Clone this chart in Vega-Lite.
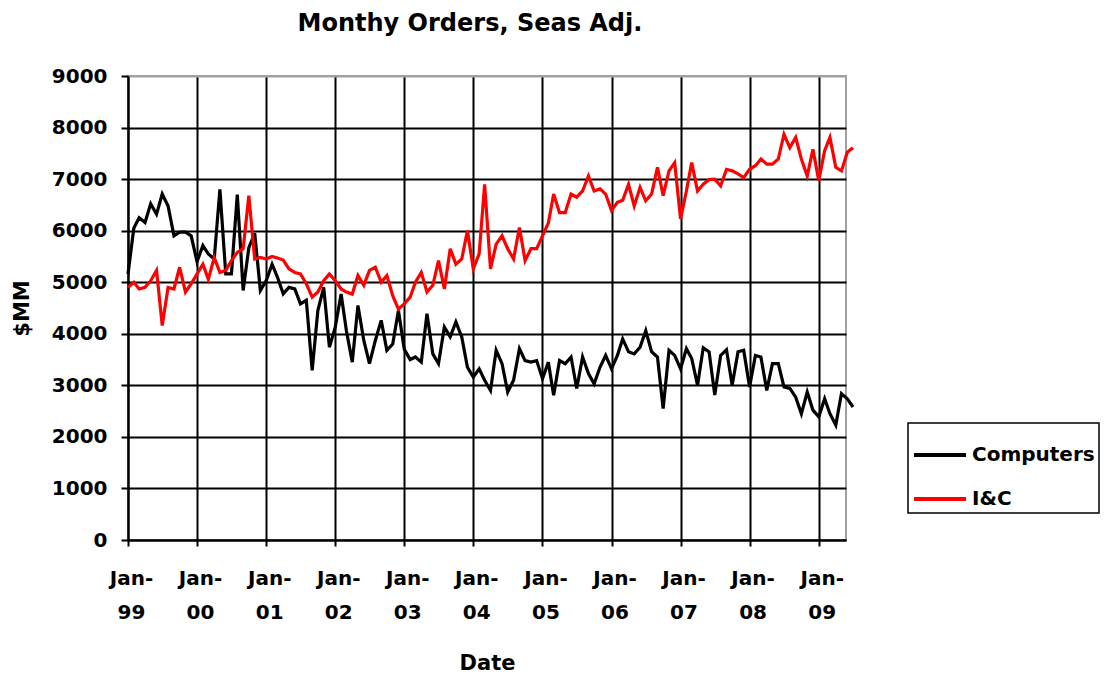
{
  "$schema": "https://vega.github.io/schema/vega-lite/v6.json",
  "width": 718,
  "height": 464,
  "autosize": {"type": "none"},
  "padding": {"left": 128, "top": 76, "right": 258, "bottom": 134},
  "background": "white",
  "config": {
    "font": "DejaVu Sans",
    "view": {"stroke": "#a0a0a0", "strokeWidth": 2}
  },
  "title": {
    "text": "Monthy Orders, Seas Adj.",
    "font": "DejaVu Sans",
    "fontSize": 24,
    "fontWeight": "bold",
    "color": "black",
    "anchor": "middle",
    "baseline": "alphabetic",
    "dx": -17,
    "offset": 11
  },
  "data": {
    "values": [
      {"date":"1999-01-01","series":"Computers","value":5160},
      {"date":"1999-02-01","series":"Computers","value":6050},
      {"date":"1999-03-01","series":"Computers","value":6250},
      {"date":"1999-04-01","series":"Computers","value":6160},
      {"date":"1999-05-01","series":"Computers","value":6520},
      {"date":"1999-06-01","series":"Computers","value":6320},
      {"date":"1999-07-01","series":"Computers","value":6710},
      {"date":"1999-08-01","series":"Computers","value":6480},
      {"date":"1999-09-01","series":"Computers","value":5900},
      {"date":"1999-10-01","series":"Computers","value":5970},
      {"date":"1999-11-01","series":"Computers","value":5970},
      {"date":"1999-12-01","series":"Computers","value":5900},
      {"date":"2000-01-01","series":"Computers","value":5400},
      {"date":"2000-02-01","series":"Computers","value":5710},
      {"date":"2000-03-01","series":"Computers","value":5550},
      {"date":"2000-04-01","series":"Computers","value":5450},
      {"date":"2000-05-01","series":"Computers","value":6800},
      {"date":"2000-06-01","series":"Computers","value":5160},
      {"date":"2000-07-01","series":"Computers","value":5160},
      {"date":"2000-08-01","series":"Computers","value":6700},
      {"date":"2000-09-01","series":"Computers","value":4840},
      {"date":"2000-10-01","series":"Computers","value":5670},
      {"date":"2000-11-01","series":"Computers","value":5950},
      {"date":"2000-12-01","series":"Computers","value":4840},
      {"date":"2001-01-01","series":"Computers","value":5030},
      {"date":"2001-02-01","series":"Computers","value":5350},
      {"date":"2001-03-01","series":"Computers","value":5100},
      {"date":"2001-04-01","series":"Computers","value":4775},
      {"date":"2001-05-01","series":"Computers","value":4900},
      {"date":"2001-06-01","series":"Computers","value":4870},
      {"date":"2001-07-01","series":"Computers","value":4580},
      {"date":"2001-08-01","series":"Computers","value":4650},
      {"date":"2001-09-01","series":"Computers","value":3290},
      {"date":"2001-10-01","series":"Computers","value":4450},
      {"date":"2001-11-01","series":"Computers","value":4900},
      {"date":"2001-12-01","series":"Computers","value":3740},
      {"date":"2002-01-01","series":"Computers","value":4130},
      {"date":"2002-02-01","series":"Computers","value":4770},
      {"date":"2002-03-01","series":"Computers","value":4060},
      {"date":"2002-04-01","series":"Computers","value":3450},
      {"date":"2002-05-01","series":"Computers","value":4550},
      {"date":"2002-06-01","series":"Computers","value":3870},
      {"date":"2002-07-01","series":"Computers","value":3420},
      {"date":"2002-08-01","series":"Computers","value":3870},
      {"date":"2002-09-01","series":"Computers","value":4260},
      {"date":"2002-10-01","series":"Computers","value":3680},
      {"date":"2002-11-01","series":"Computers","value":3800},
      {"date":"2002-12-01","series":"Computers","value":4450},
      {"date":"2003-01-01","series":"Computers","value":3700},
      {"date":"2003-02-01","series":"Computers","value":3500},
      {"date":"2003-03-01","series":"Computers","value":3550},
      {"date":"2003-04-01","series":"Computers","value":3450},
      {"date":"2003-05-01","series":"Computers","value":4390},
      {"date":"2003-06-01","series":"Computers","value":3610},
      {"date":"2003-07-01","series":"Computers","value":3420},
      {"date":"2003-08-01","series":"Computers","value":4130},
      {"date":"2003-09-01","series":"Computers","value":3940},
      {"date":"2003-10-01","series":"Computers","value":4230},
      {"date":"2003-11-01","series":"Computers","value":3940},
      {"date":"2003-12-01","series":"Computers","value":3350},
      {"date":"2004-01-01","series":"Computers","value":3160},
      {"date":"2004-02-01","series":"Computers","value":3320},
      {"date":"2004-03-01","series":"Computers","value":3100},
      {"date":"2004-04-01","series":"Computers","value":2900},
      {"date":"2004-05-01","series":"Computers","value":3680},
      {"date":"2004-06-01","series":"Computers","value":3420},
      {"date":"2004-07-01","series":"Computers","value":2870},
      {"date":"2004-08-01","series":"Computers","value":3100},
      {"date":"2004-09-01","series":"Computers","value":3710},
      {"date":"2004-10-01","series":"Computers","value":3480},
      {"date":"2004-11-01","series":"Computers","value":3450},
      {"date":"2004-12-01","series":"Computers","value":3480},
      {"date":"2005-01-01","series":"Computers","value":3130},
      {"date":"2005-02-01","series":"Computers","value":3450},
      {"date":"2005-03-01","series":"Computers","value":2810},
      {"date":"2005-04-01","series":"Computers","value":3480},
      {"date":"2005-05-01","series":"Computers","value":3420},
      {"date":"2005-06-01","series":"Computers","value":3550},
      {"date":"2005-07-01","series":"Computers","value":2940},
      {"date":"2005-08-01","series":"Computers","value":3550},
      {"date":"2005-09-01","series":"Computers","value":3230},
      {"date":"2005-10-01","series":"Computers","value":3030},
      {"date":"2005-11-01","series":"Computers","value":3350},
      {"date":"2005-12-01","series":"Computers","value":3580},
      {"date":"2006-01-01","series":"Computers","value":3320},
      {"date":"2006-02-01","series":"Computers","value":3580},
      {"date":"2006-03-01","series":"Computers","value":3900},
      {"date":"2006-04-01","series":"Computers","value":3650},
      {"date":"2006-05-01","series":"Computers","value":3610},
      {"date":"2006-06-01","series":"Computers","value":3740},
      {"date":"2006-07-01","series":"Computers","value":4060},
      {"date":"2006-08-01","series":"Computers","value":3650},
      {"date":"2006-09-01","series":"Computers","value":3550},
      {"date":"2006-10-01","series":"Computers","value":2550},
      {"date":"2006-11-01","series":"Computers","value":3680},
      {"date":"2006-12-01","series":"Computers","value":3580},
      {"date":"2007-01-01","series":"Computers","value":3320},
      {"date":"2007-02-01","series":"Computers","value":3710},
      {"date":"2007-03-01","series":"Computers","value":3520},
      {"date":"2007-04-01","series":"Computers","value":3000},
      {"date":"2007-05-01","series":"Computers","value":3730},
      {"date":"2007-06-01","series":"Computers","value":3650},
      {"date":"2007-07-01","series":"Computers","value":2810},
      {"date":"2007-08-01","series":"Computers","value":3580},
      {"date":"2007-09-01","series":"Computers","value":3690},
      {"date":"2007-10-01","series":"Computers","value":3000},
      {"date":"2007-11-01","series":"Computers","value":3650},
      {"date":"2007-12-01","series":"Computers","value":3680},
      {"date":"2008-01-01","series":"Computers","value":2970},
      {"date":"2008-02-01","series":"Computers","value":3580},
      {"date":"2008-03-01","series":"Computers","value":3550},
      {"date":"2008-04-01","series":"Computers","value":2900},
      {"date":"2008-05-01","series":"Computers","value":3420},
      {"date":"2008-06-01","series":"Computers","value":3420},
      {"date":"2008-07-01","series":"Computers","value":2970},
      {"date":"2008-08-01","series":"Computers","value":2940},
      {"date":"2008-09-01","series":"Computers","value":2770},
      {"date":"2008-10-01","series":"Computers","value":2450},
      {"date":"2008-11-01","series":"Computers","value":2870},
      {"date":"2008-12-01","series":"Computers","value":2520},
      {"date":"2009-01-01","series":"Computers","value":2390},
      {"date":"2009-02-01","series":"Computers","value":2740},
      {"date":"2009-03-01","series":"Computers","value":2450},
      {"date":"2009-04-01","series":"Computers","value":2230},
      {"date":"2009-05-01","series":"Computers","value":2840},
      {"date":"2009-06-01","series":"Computers","value":2740},
      {"date":"2009-07-01","series":"Computers","value":2580},
      {"date":"1999-01-01","series":"I&C","value":4900},
      {"date":"1999-02-01","series":"I&C","value":5000},
      {"date":"1999-03-01","series":"I&C","value":4870},
      {"date":"1999-04-01","series":"I&C","value":4900},
      {"date":"1999-05-01","series":"I&C","value":5030},
      {"date":"1999-06-01","series":"I&C","value":5230},
      {"date":"1999-07-01","series":"I&C","value":4160},
      {"date":"1999-08-01","series":"I&C","value":4900},
      {"date":"1999-09-01","series":"I&C","value":4870},
      {"date":"1999-10-01","series":"I&C","value":5290},
      {"date":"1999-11-01","series":"I&C","value":4810},
      {"date":"1999-12-01","series":"I&C","value":4970},
      {"date":"2000-01-01","series":"I&C","value":5160},
      {"date":"2000-02-01","series":"I&C","value":5350},
      {"date":"2000-03-01","series":"I&C","value":5060},
      {"date":"2000-04-01","series":"I&C","value":5480},
      {"date":"2000-05-01","series":"I&C","value":5190},
      {"date":"2000-06-01","series":"I&C","value":5230},
      {"date":"2000-07-01","series":"I&C","value":5420},
      {"date":"2000-08-01","series":"I&C","value":5580},
      {"date":"2000-09-01","series":"I&C","value":5650},
      {"date":"2000-10-01","series":"I&C","value":6680},
      {"date":"2000-11-01","series":"I&C","value":5450},
      {"date":"2000-12-01","series":"I&C","value":5480},
      {"date":"2001-01-01","series":"I&C","value":5450},
      {"date":"2001-02-01","series":"I&C","value":5500},
      {"date":"2001-03-01","series":"I&C","value":5470},
      {"date":"2001-04-01","series":"I&C","value":5430},
      {"date":"2001-05-01","series":"I&C","value":5260},
      {"date":"2001-06-01","series":"I&C","value":5190},
      {"date":"2001-07-01","series":"I&C","value":5160},
      {"date":"2001-08-01","series":"I&C","value":4970},
      {"date":"2001-09-01","series":"I&C","value":4710},
      {"date":"2001-10-01","series":"I&C","value":4810},
      {"date":"2001-11-01","series":"I&C","value":5030},
      {"date":"2001-12-01","series":"I&C","value":5160},
      {"date":"2002-01-01","series":"I&C","value":5030},
      {"date":"2002-02-01","series":"I&C","value":4870},
      {"date":"2002-03-01","series":"I&C","value":4810},
      {"date":"2002-04-01","series":"I&C","value":4770},
      {"date":"2002-05-01","series":"I&C","value":5130},
      {"date":"2002-06-01","series":"I&C","value":4940},
      {"date":"2002-07-01","series":"I&C","value":5230},
      {"date":"2002-08-01","series":"I&C","value":5290},
      {"date":"2002-09-01","series":"I&C","value":5000},
      {"date":"2002-10-01","series":"I&C","value":5130},
      {"date":"2002-11-01","series":"I&C","value":4740},
      {"date":"2002-12-01","series":"I&C","value":4480},
      {"date":"2003-01-01","series":"I&C","value":4580},
      {"date":"2003-02-01","series":"I&C","value":4710},
      {"date":"2003-03-01","series":"I&C","value":5000},
      {"date":"2003-04-01","series":"I&C","value":5190},
      {"date":"2003-05-01","series":"I&C","value":4810},
      {"date":"2003-06-01","series":"I&C","value":4940},
      {"date":"2003-07-01","series":"I&C","value":5420},
      {"date":"2003-08-01","series":"I&C","value":4870},
      {"date":"2003-09-01","series":"I&C","value":5650},
      {"date":"2003-10-01","series":"I&C","value":5350},
      {"date":"2003-11-01","series":"I&C","value":5450},
      {"date":"2003-12-01","series":"I&C","value":6000},
      {"date":"2004-01-01","series":"I&C","value":5260},
      {"date":"2004-02-01","series":"I&C","value":5550},
      {"date":"2004-03-01","series":"I&C","value":6900},
      {"date":"2004-04-01","series":"I&C","value":5260},
      {"date":"2004-05-01","series":"I&C","value":5740},
      {"date":"2004-06-01","series":"I&C","value":5900},
      {"date":"2004-07-01","series":"I&C","value":5650},
      {"date":"2004-08-01","series":"I&C","value":5450},
      {"date":"2004-09-01","series":"I&C","value":6060},
      {"date":"2004-10-01","series":"I&C","value":5420},
      {"date":"2004-11-01","series":"I&C","value":5650},
      {"date":"2004-12-01","series":"I&C","value":5650},
      {"date":"2005-01-01","series":"I&C","value":5900},
      {"date":"2005-02-01","series":"I&C","value":6150},
      {"date":"2005-03-01","series":"I&C","value":6710},
      {"date":"2005-04-01","series":"I&C","value":6350},
      {"date":"2005-05-01","series":"I&C","value":6350},
      {"date":"2005-06-01","series":"I&C","value":6710},
      {"date":"2005-07-01","series":"I&C","value":6650},
      {"date":"2005-08-01","series":"I&C","value":6770},
      {"date":"2005-09-01","series":"I&C","value":7060},
      {"date":"2005-10-01","series":"I&C","value":6770},
      {"date":"2005-11-01","series":"I&C","value":6810},
      {"date":"2005-12-01","series":"I&C","value":6710},
      {"date":"2006-01-01","series":"I&C","value":6390},
      {"date":"2006-02-01","series":"I&C","value":6550},
      {"date":"2006-03-01","series":"I&C","value":6590},
      {"date":"2006-04-01","series":"I&C","value":6900},
      {"date":"2006-05-01","series":"I&C","value":6480},
      {"date":"2006-06-01","series":"I&C","value":6840},
      {"date":"2006-07-01","series":"I&C","value":6580},
      {"date":"2006-08-01","series":"I&C","value":6710},
      {"date":"2006-09-01","series":"I&C","value":7230},
      {"date":"2006-10-01","series":"I&C","value":6680},
      {"date":"2006-11-01","series":"I&C","value":7160},
      {"date":"2006-12-01","series":"I&C","value":7320},
      {"date":"2007-01-01","series":"I&C","value":6230},
      {"date":"2007-02-01","series":"I&C","value":6770},
      {"date":"2007-03-01","series":"I&C","value":7320},
      {"date":"2007-04-01","series":"I&C","value":6770},
      {"date":"2007-05-01","series":"I&C","value":6900},
      {"date":"2007-06-01","series":"I&C","value":6990},
      {"date":"2007-07-01","series":"I&C","value":7000},
      {"date":"2007-08-01","series":"I&C","value":6870},
      {"date":"2007-09-01","series":"I&C","value":7190},
      {"date":"2007-10-01","series":"I&C","value":7160},
      {"date":"2007-11-01","series":"I&C","value":7100},
      {"date":"2007-12-01","series":"I&C","value":7030},
      {"date":"2008-01-01","series":"I&C","value":7190},
      {"date":"2008-02-01","series":"I&C","value":7260},
      {"date":"2008-03-01","series":"I&C","value":7390},
      {"date":"2008-04-01","series":"I&C","value":7290},
      {"date":"2008-05-01","series":"I&C","value":7290},
      {"date":"2008-06-01","series":"I&C","value":7390},
      {"date":"2008-07-01","series":"I&C","value":7870},
      {"date":"2008-08-01","series":"I&C","value":7610},
      {"date":"2008-09-01","series":"I&C","value":7810},
      {"date":"2008-10-01","series":"I&C","value":7390},
      {"date":"2008-11-01","series":"I&C","value":7060},
      {"date":"2008-12-01","series":"I&C","value":7580},
      {"date":"2009-01-01","series":"I&C","value":6970},
      {"date":"2009-02-01","series":"I&C","value":7550},
      {"date":"2009-03-01","series":"I&C","value":7810},
      {"date":"2009-04-01","series":"I&C","value":7230},
      {"date":"2009-05-01","series":"I&C","value":7160},
      {"date":"2009-06-01","series":"I&C","value":7520},
      {"date":"2009-07-01","series":"I&C","value":7610}
    ]
  },
  "mark": {"type": "line", "strokeWidth": 3.2, "clip": false},
  "encoding": {
    "x": {
      "field": "date",
      "type": "temporal",
      "scale": {
        "type": "utc",
        "domain": [
          {"year": 1999, "month": 1, "date": 1, "utc": true},
          {"year": 2009, "month": 5, "date": 25, "utc": true}
        ]
      },
      "axis": {
        "title": "Date",
        "titleFont": "DejaVu Sans",
        "titleFontSize": 21,
        "titleFontWeight": "bold",
        "titleColor": "black",
        "titleBaseline": "alphabetic",
        "titleY": 129,
        "values": [
          {"year": 1999, "month": 1, "date": 1, "utc": true},
          {"year": 2000, "month": 1, "date": 1, "utc": true},
          {"year": 2001, "month": 1, "date": 1, "utc": true},
          {"year": 2002, "month": 1, "date": 1, "utc": true},
          {"year": 2003, "month": 1, "date": 1, "utc": true},
          {"year": 2004, "month": 1, "date": 1, "utc": true},
          {"year": 2005, "month": 1, "date": 1, "utc": true},
          {"year": 2006, "month": 1, "date": 1, "utc": true},
          {"year": 2007, "month": 1, "date": 1, "utc": true},
          {"year": 2008, "month": 1, "date": 1, "utc": true},
          {"year": 2009, "month": 1, "date": 1, "utc": true}
        ],
        "labelExpr": "['Jan-', utcFormat(datum.value, '%y')]",
        "labelFont": "DejaVu Sans",
        "labelFontSize": 20,
        "labelFontWeight": "bold",
        "labelColor": "black",
        "labelLineHeight": 34,
        "labelBaseline": "alphabetic",
        "labelPadding": 38,
        "labelOffset": 3,
        "labelFlush": false,
        "labelOverlap": false,
        "tickSize": 6,
        "tickColor": "black",
        "tickWidth": 2,
        "domainColor": "black",
        "domainWidth": 2,
        "grid": true,
        "gridColor": "black",
        "gridWidth": 2,
        "gridOpacity": 1
      }
    },
    "y": {
      "field": "value",
      "type": "quantitative",
      "scale": {"domain": [0, 9000], "nice": false},
      "axis": {
        "title": "$MM",
        "titleFont": "DejaVu Sans",
        "titleFontSize": 21,
        "titleFontWeight": "bold",
        "titleColor": "black",
        "titleAngle": -90,
        "titleAlign": "center",
        "titleBaseline": "middle",
        "titleX": -106,
        "titleY": 232,
        "values": [0, 1000, 2000, 3000, 4000, 5000, 6000, 7000, 8000, 9000],
        "format": "d",
        "labelFont": "DejaVu Sans",
        "labelFontSize": 20,
        "labelFontWeight": "bold",
        "labelColor": "black",
        "labelPadding": 14,
        "tickSize": 7,
        "tickColor": "black",
        "tickWidth": 2,
        "domainColor": "black",
        "domainWidth": 2,
        "grid": true,
        "gridColor": {"condition": {"test": "datum.value === 9000", "value": "#a0a0a0"}, "value": "black"},
        "gridWidth": 2,
        "gridOpacity": 1
      }
    },
    "color": {
      "field": "series",
      "type": "nominal",
      "scale": {"domain": ["Computers", "I&C"], "range": ["#000000", "#ff0000"]},
      "legend": {
        "title": null,
        "orient": "none",
        "legendX": 780,
        "legendY": 347,
        "direction": "vertical",
        "strokeColor": "black",
        "fillColor": "white",
        "padding": 4,
        "symbolType": "stroke",
        "symbolSize": 2700,
        "symbolStrokeWidth": 4,
        "labelFont": "DejaVu Sans",
        "labelFontSize": 20,
        "labelFontWeight": "bold",
        "labelColor": "black",
        "labelOffset": 4,
        "rowPadding": 6,
        "labelExpr": "datum.label + '                  '",
        "encode": {"legend": {"update": {"strokeWidth": {"value": 1.5}}}}
      }
    }
  }
}
